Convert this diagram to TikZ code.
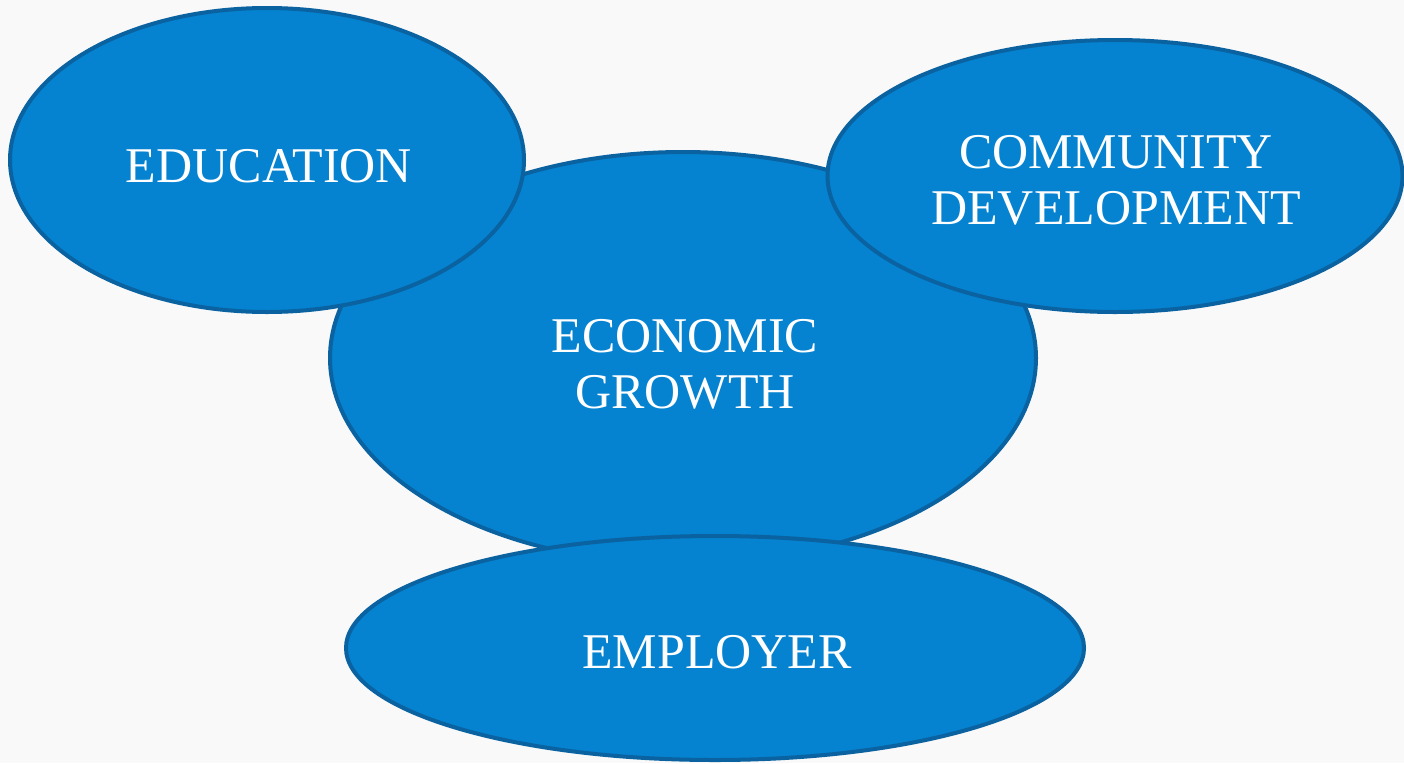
\documentclass[tikz,border=0pt]{standalone}
\usepackage{fontspec}
\setmainfont{Liberation Serif}
\usetikzlibrary{shapes.geometric}
\definecolor{bfill}{HTML}{0583D1}
\definecolor{bline}{HTML}{0A62A0}
\definecolor{bg}{HTML}{F9F9F9}
\tikzset{
  blob/.style={ellipse, draw=bline, fill=bfill, line width=4pt, inner sep=0pt},
  lbl/.style={text=white, font=\fontsize{50}{56}\selectfont, align=center, anchor=base, inner sep=0pt},
}
\begin{document}
\begin{tikzpicture}[x=1pt,y=-1pt]
\fill[bg] (0,0) rectangle (1404,763);
\useasboundingbox (0,0) rectangle (1404,763);
\node[blob, minimum width=706pt, minimum height=412pt] (eco) at (683,358) {};
\node[blob, minimum width=514pt, minimum height=304pt] (edu) at (267,160) {};
\node[blob, minimum width=575pt, minimum height=272pt] (com) at (1115,176) {};
\node[blob, minimum width=738pt, minimum height=224pt] (emp) at (715,648) {};
\node[lbl] (edut) at (269,182) {EDUCATION};
\node[lbl] (comt) at (1116,224) {COMMUNITY\\DEVELOPMENT};
\node[lbl] (ecot) at (685,408) {ECONOMIC\\GROWTH};
\node[lbl] (empt) at (717,668) {EMPLOYER};
\end{tikzpicture}
\end{document}
